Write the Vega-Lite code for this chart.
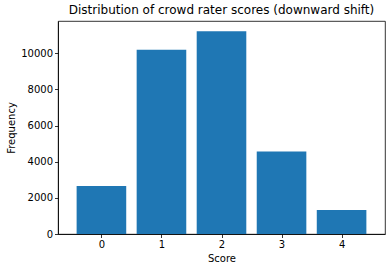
{
  "$schema": "https://vega.github.io/schema/vega-lite/v6.json",
  "width": 327,
  "height": 213,
  "autosize": {"type": "none"},
  "padding": {"left": 58, "top": 21, "right": 7, "bottom": 36},
  "background": "white",
  "title": {"text": "Distribution of crowd rater scores (downward shift)", "fontSize": 12, "fontWeight": "normal", "font": "DejaVu Sans", "color": "black", "offset": 4, "anchor": "middle"},
  "data": {"values": [
    {"score": 0, "frequency": 2660},
    {"score": 1, "frequency": 10205},
    {"score": 2, "frequency": 11230},
    {"score": 3, "frequency": 4565},
    {"score": 4, "frequency": 1330}
  ]},
  "mark": {"type": "bar", "size": 49.6, "color": "#1f77b4"},
  "encoding": {
    "x": {"field": "score", "type": "quantitative", "title": "Score",
      "scale": {"domain": [-0.64, 4.64], "nice": false, "zero": false},
      "axis": {"values": [0, 1, 2, 3, 4], "format": "d"}},
    "y": {"field": "frequency", "type": "quantitative", "title": "Frequency",
      "scale": {"domain": [0, 11792], "nice": false},
      "axis": {"values": [0, 2000, 4000, 6000, 8000, 10000], "format": "d"}}
  },
  "config": {
    "font": "DejaVu Sans",
    "view": {"stroke": "black", "strokeWidth": 0.8},
    "axis": {
      "grid": false,
      "domainColor": "black", "domainWidth": 0.8,
      "tickColor": "black", "tickWidth": 0.8, "tickSize": 3.5,
      "labelFontSize": 10, "labelColor": "black", "labelPadding": 2,
      "titleFontSize": 10, "titleFontWeight": "normal", "titleColor": "black", "titlePadding": 4
    }
  }
}
